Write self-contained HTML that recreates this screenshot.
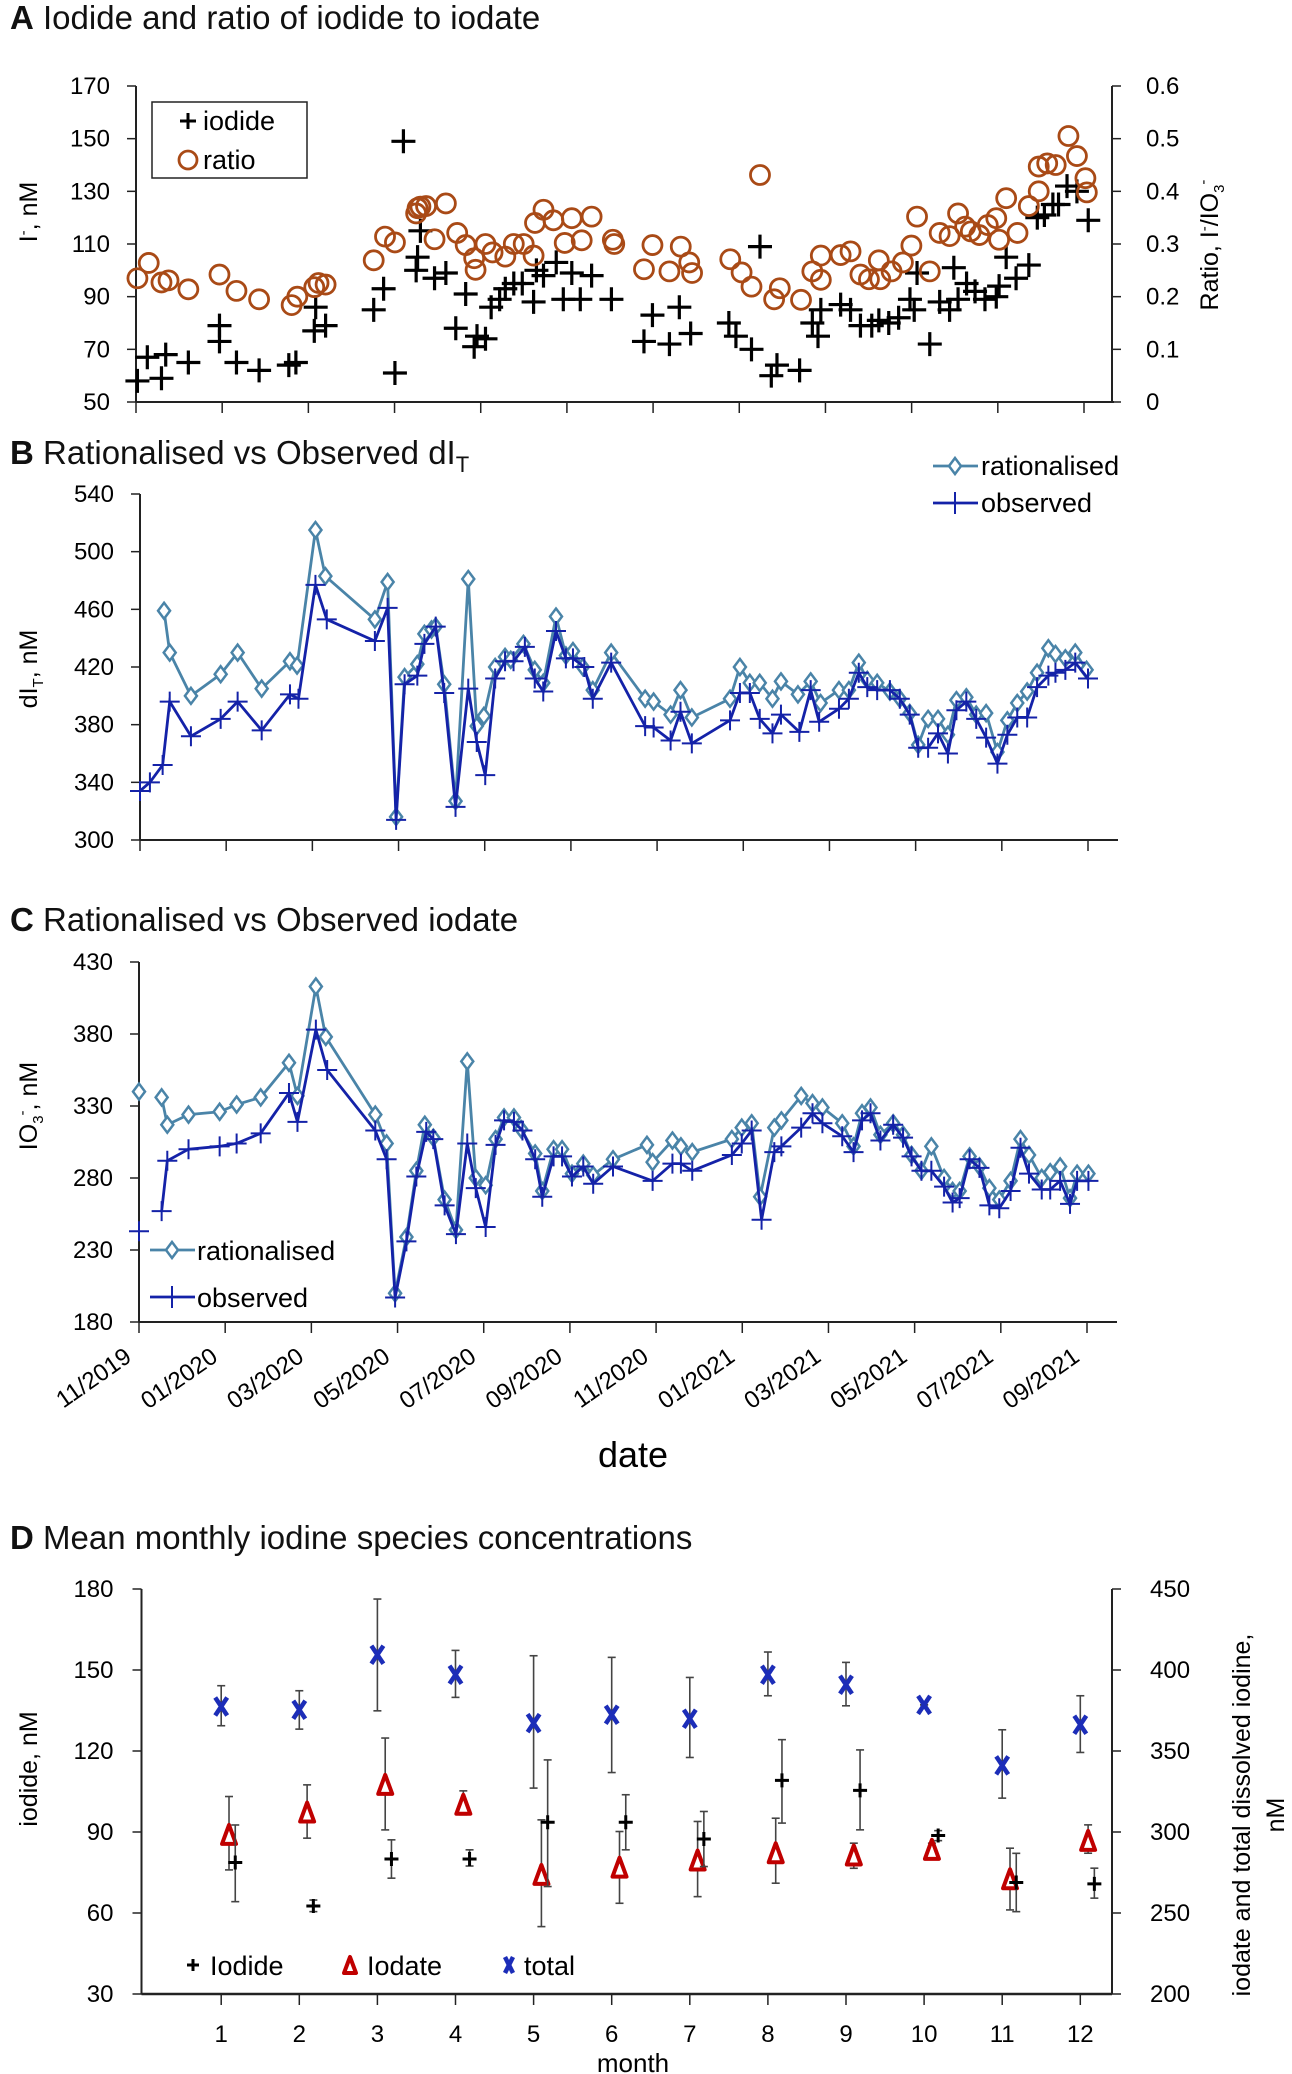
<!DOCTYPE html>
<html><head><meta charset="utf-8">
<style>
html,body{margin:0;padding:0;background:#fff;}
svg{display:block;font-family:"Liberation Sans",sans-serif;}
</style></head>
<body>
<svg id="fig" width="1292" height="2074" viewBox="0 0 1292 2074" xmlns="http://www.w3.org/2000/svg">
<g id="static">
<text x="10" y="29" font-size="33" fill="#111"><tspan font-weight="bold">A</tspan>  Iodide and ratio of iodide to iodate</text>
<text x="10" y="464" font-size="33" fill="#111"><tspan font-weight="bold">B</tspan>  Rationalised vs Observed dI<tspan font-size="22" dy="8">T</tspan></text>
<text x="10" y="931" font-size="33" fill="#111"><tspan font-weight="bold">C</tspan>  Rationalised vs Observed iodate</text>
<text x="10" y="1549" font-size="33" fill="#111"><tspan font-weight="bold">D</tspan>  Mean monthly iodine species concentrations</text>
<text transform="translate(37,212) rotate(-90)" text-anchor="middle" font-size="25">I<tspan font-size="15" dy="-9">-</tspan><tspan dy="9">, nM</tspan></text>
<text transform="translate(1218,245) rotate(-90)" text-anchor="middle" font-size="25">Ratio, I<tspan font-size="15" dy="-9">-</tspan><tspan dy="9">/IO</tspan><tspan font-size="15" dy="6">3</tspan><tspan font-size="15" dy="-16">-</tspan></text>
<text transform="translate(37,669) rotate(-90)" text-anchor="middle" font-size="25">dI<tspan font-size="15" dy="6">T</tspan><tspan dy="-6">, nM</tspan></text>
<text transform="translate(37,1106) rotate(-90)" text-anchor="middle" font-size="25">IO<tspan font-size="15" dy="6">3</tspan><tspan font-size="15" dy="-16">-</tspan><tspan dy="10">, nM</tspan></text>
<text x="633" y="1467" text-anchor="middle" font-size="36">date</text>
<text transform="translate(37,1769) rotate(-90)" text-anchor="middle" font-size="25">iodide, nM</text>
<text transform="translate(1250,1815) rotate(-90)" text-anchor="middle" font-size="25">iodate and total dissolved iodine,</text>
<text transform="translate(1284,1815) rotate(-90)" text-anchor="middle" font-size="25">nM</text>
<text x="633" y="2072" text-anchor="middle" font-size="26">month</text>
</g>
<g id="plots"></g>
</svg>
<script>
// ---------- Panel A data ----------
const aIodideDay=[1,8,18,21,37,59,59,71,87,108,113,127,126,134,168,175,183,189,199,201,198,211,219,226,233,239,241,247,251,257,261,267,273,281,283,288,297,302,308,314,322,336,359,365,377,384,392,419,424,435,441,449,453,469,478,482,484,498,505,512,520,525,532,539,547,550,552,561,568,575,578,581,587,593,600,608,610,615,622,631,637,642,648,652,658,665,673];
const aIodideVal=[58,67,59,68,65,79,73,65,62,64,65,86,77,79,85,93,61,149,105,115,100,97,99,78,91,71,75,74,86,89,93,95,95,88,100,98,103,89,99,89,98,89,73,83,72,86,76,80,75,70,109,60,64,62,80,75,85,87,85,79,79,81,80,82,89,85,99,72,88,85,101,89,95,92,89,90,94,105,97,102,120,121,125,125,132,130,119];
const aRatioDay=[1,9,18,23,37,59,71,87,110,114,126,129,134,168,176,183,198,199,201,205,211,219,227,233,239,240,247,252,261,267,274,281,282,288,295,303,308,315,322,337,338,359,365,377,385,391,393,420,428,435,441,451,455,470,478,484,484,498,505,512,518,525,526,534,542,548,552,561,568,575,581,586,590,596,602,608,610,615,623,631,638,638,644,650,659,665,671,672];
const aRatioVal=[.235,.264,.227,.231,.214,.242,.211,.195,.184,.200,.218,.226,.223,.269,.314,.303,.358,.368,.371,.372,.309,.377,.321,.298,.273,.251,.300,.284,.276,.300,.300,.278,.340,.365,.345,.302,.349,.307,.352,.308,.300,.252,.298,.248,.295,.265,.245,.271,.246,.219,.431,.195,.216,.194,.248,.232,.278,.279,.286,.242,.233,.269,.233,.248,.265,.297,.352,.248,.321,.315,.358,.333,.324,.317,.336,.349,.308,.387,.321,.372,.400,.447,.453,.450,.505,.467,.425,.398];
const aLeftTicks=[50,70,90,110,130,150,170];
const aRightTicks=["0","0.1","0.2","0.3","0.4","0.5","0.6"];
const dateTicks=["11/2019","01/2020","03/2020","05/2020","07/2020","09/2020","11/2020","01/2021","03/2021","05/2021","07/2021","09/2021"];
// ---------- Panel B data ----------
const bRatDay=[17,21,36,57,69,86,106,111,124,131,166,175,181,187,196,201,206,209,215,223,232,238,243,251,258,262,271,279,285,294,301,306,313,320,333,357,363,375,382,390,417,424,431,438,447,453,465,474,481,494,501,508,514,521,530,537,544,550,557,564,571,577,584,591,598,606,613,620,627,634,642,647,654,661,669];
const bRatVal=[459,430,400,415,430,405,424,421,515,483,453,479,316,413,422,443,446,448,408,327,481,379,386,420,427,425,436,418,409,455,428,431,420,404,430,398,396,387,404,385,398,420,409,409,398,410,401,410,395,404,404,423,411,409,403,398,388,366,384,384,373,397,399,387,388,361,383,395,403,416,433,429,426,430,418];
const bObsDay=[0,7,16,21,36,57,69,86,106,112,124,132,166,175,181,187,196,201,209,215,223,232,238,244,251,258,264,272,279,285,294,301,306,314,320,333,357,363,375,382,390,417,424,431,438,447,453,466,474,480,494,501,508,514,521,530,537,544,550,557,564,571,577,584,591,598,606,613,620,627,634,642,647,654,661,670];
const bObsVal=[334,340,352,396,372,384,396,376,401,398,477,453,438,461,314,408,414,436,448,402,323,405,368,345,412,424,424,434,412,403,445,426,426,420,398,423,379,378,369,389,367,383,402,402,384,374,387,375,404,382,391,398,416,406,404,404,398,387,364,364,374,360,390,396,384,371,353,373,385,385,406,414,416,418,423,412];
const bTicks=[300,340,380,420,460,500,540];
// ---------- Panel C data ----------
const cRatDay=[0,16,20,35,57,69,86,106,112,125,132,167,175,181,189,196,202,208,216,224,232,238,245,252,258,265,270,280,285,293,299,306,314,321,335,359,363,377,383,391,419,426,433,439,449,454,468,476,483,497,505,511,517,524,533,540,546,553,560,569,575,580,587,594,601,608,616,623,629,638,644,651,658,663,671];
const cRatVal=[340,336,317,324,326,331,336,360,337,413,378,324,304,200,239,285,317,308,265,244,361,280,275,307,322,322,314,297,271,300,300,283,290,282,293,303,291,306,302,298,307,315,318,267,315,320,337,332,329,318,302,325,329,310,318,310,296,285,302,280,271,271,295,288,273,265,278,307,296,280,284,288,266,283,283];
const cObsDay=[0,16,20,35,57,69,86,106,112,125,133,167,175,181,189,196,203,208,216,224,232,238,245,252,258,265,271,280,285,293,299,306,314,321,335,363,377,383,391,419,426,433,440,449,454,468,476,483,497,505,511,517,524,533,540,546,553,560,569,575,580,587,594,601,608,616,623,629,638,644,651,658,663,671];
const cObsVal=[243,257,292,300,302,304,311,339,319,383,355,313,293,197,236,281,312,307,261,241,304,273,246,303,320,319,313,293,267,295,295,281,288,276,288,278,290,290,285,296,304,313,251,298,302,315,325,318,309,298,320,325,306,317,308,295,285,285,274,263,266,293,287,261,259,271,301,283,272,272,278,262,278,278];
const cTicks=[180,230,280,330,380,430];
// ---------- Panel D data ----------
const months=[1,2,3,4,5,6,7,8,9,10,11,12];
const dIodide=[78.7,62.6,80,80,93.6,93.6,87.4,109.1,105.4,88.7,71.3,70.8];
const dIodideHi=[92.6,64.8,87.1,83.4,116.7,103.8,97.6,124.2,120.4,90.5,82.1,76.6];
const dIodideLo=[64.2,60.5,72.9,77.4,69.8,83.4,77.2,93.3,90.8,86.8,60.5,65.5];
const dIodate=[298.2,312,329.1,316.8,273.5,278,282.4,286.9,285.5,289,270.8,294.5];
const dIodateHi=[321.9,329.1,358,325.4,307.5,300.3,306.5,308.5,293.1,293.1,290,304.4];
const dIodateLo=[276.6,296.2,301.3,310.6,241.6,256,260.1,268.4,277.6,284.8,251.9,286.9];
const dTotal=[377.5,375.5,409.4,397.1,367.2,372.4,369.9,397.1,390.9,378.5,341.1,366.2];
const dTotalHi=[390.3,387.2,443.8,412.1,408.8,407.8,395.4,411.1,404.7,378.5,363.1,384.1];
const dTotalLo=[365.6,363.5,374.8,383.1,327.1,336.7,346,384.1,377.9,378.5,320.9,349.1];
const dLeftTicks=[30,60,90,120,150,180];
const dRightTicks=[200,250,300,350,400,450];

const NS="http://www.w3.org/2000/svg";
const root=document.getElementById('plots');
function mk(tag,attrs,parent,text){const e=document.createElementNS(NS,tag);for(const k in attrs)e.setAttribute(k,attrs[k]);if(text!==undefined)e.textContent=text;(parent||root).appendChild(e);return e;}
function grp(name){const g=mk('g',{});


return g;}
function plus(g,x,y,s,c,w){mk('path',{d:`M${x-s} ${y}H${x+s}M${x} ${y-s}V${y+s}`,stroke:c,'stroke-width':w,fill:'none'},g);}
function diamond(g,x,y,c){mk('path',{d:`M${x} ${y-8}L${x+6} ${y}L${x} ${y+8}L${x-6} ${y}Z`,stroke:c,'stroke-width':2.5,fill:'#fff'},g);}
function line(g,x1,y1,x2,y2,c,w){mk('line',{x1,y1,x2,y2,stroke:c,'stroke-width':w||1.5},g);}

function timeAxis(g,x0,y0,withLabels){
  const w=948;line(g,x0,y0,x0+978,y0,'#222',2);
  dateTicks.forEach((t,i)=>{const x=x0+i*w/11;line(g,x,y0,x,y0+11,'#222',1.5);
    if(withLabels){const tx=mk('text',{transform:`translate(${x-6},${y0+38}) rotate(-35)`,'text-anchor':'end','font-size':24},g,t);
    
    }});
}

// ----- Panel A -----
(function(){
  const g=grp('panel-a-chart');
  const X0=136,Y0=402,Y1=86;
  const x=d=>X0+d*948/670, y=v=>Y0-(v-50)/120*(Y0-Y1), yr=r=>Y0-r/0.6*(Y0-Y1);
  line(g,X0,Y1,X0,Y0,'#222',2);line(g,1112,Y1,1112,Y0,'#222',2);
  timeAxis(g,X0,Y0,false);
  aLeftTicks.forEach(t=>{line(g,X0-9,y(t),X0,y(t),'#222',1.5);mk('text',{x:X0-26,y:y(t)+8,'text-anchor':'end','font-size':24},g,t);});
  aRightTicks.forEach(t=>{const yy=yr(parseFloat(t));line(g,1112,yy,1121,yy,'#222',1.5);mk('text',{x:1146,y:yy+8,'font-size':24},g,t);});
  const gi=grp('iodide-series');g.appendChild(gi);
  aIodideDay.forEach((d,i)=>plus(gi,x(d),y(aIodideVal[i]),12,'#000',3.2));
  const gr=grp('ratio-series');g.appendChild(gr);
  aRatioDay.forEach((d,i)=>mk('circle',{cx:x(aRatioDay[i]),cy:yr(aRatioVal[i]),r:9.5,fill:'none',stroke:'#a94a16','stroke-width':2.8},gr));
  const lg=grp('panel-a-legend');g.appendChild(lg);
  mk('rect',{x:152,y:102,width:155,height:76,fill:'#fff',stroke:'#222','stroke-width':1.5},lg);
  plus(lg,188,121,8,'#000',3);mk('text',{x:203,y:130,'font-size':27},lg,'iodide');
  mk('circle',{cx:188,cy:160,r:9,fill:'none',stroke:'#a94a16','stroke-width':2.8},lg);mk('text',{x:203,y:169,'font-size':27},lg,'ratio');
})();

// ----- Panel B -----
(function(){
  const g=grp('panel-b-chart');
  const X0=140,Y0=840,Y1=494;
  const x=d=>X0+d*948/670, y=v=>Y0-(v-300)/240*(Y0-Y1);
  line(g,X0,Y1,X0,Y0,'#222',2);timeAxis(g,X0,Y0,false);
  bTicks.forEach(t=>{line(g,X0-9,y(t),X0,y(t),'#222',1.5);mk('text',{x:X0-26,y:y(t)+8,'text-anchor':'end','font-size':24},g,t);});
  const gr=grp('rationalised-line');g.appendChild(gr);
  mk('polyline',{points:bRatDay.map((d,i)=>x(d)+','+y(bRatVal[i])).join(' '),fill:'none',stroke:'#4a84a8','stroke-width':2.8},gr);
  bRatDay.forEach((d,i)=>diamond(gr,x(d),y(bRatVal[i]),'#4a84a8'));
  const go=grp('observed-line');g.appendChild(go);
  mk('polyline',{points:bObsDay.map((d,i)=>x(d)+','+y(bObsVal[i])).join(' '),fill:'none',stroke:'#1422a8','stroke-width':2.8},go);
  bObsDay.forEach((d,i)=>plus(go,x(d),y(bObsVal[i]),10,'#1422a8',2));
  const lg=grp('panel-b-legend');g.appendChild(lg);
  line(lg,933,466,978,466,'#4a84a8',2.8);diamond(lg,955,466,'#4a84a8');mk('text',{x:981,y:475,'font-size':27},lg,'rationalised');
  line(lg,933,503,978,503,'#1422a8',2.8);plus(lg,955,503,11,'#1422a8',2);mk('text',{x:981,y:512,'font-size':27},lg,'observed');
})();

// ----- Panel C -----
(function(){
  const g=grp('panel-c-chart');
  const X0=139,Y0=1322,Y1=962;
  const x=d=>X0+d*948/670, y=v=>Y0-(v-180)/250*(Y0-Y1);
  line(g,X0,Y1,X0,Y0,'#222',2);timeAxis(g,X0,Y0,true);
  cTicks.forEach(t=>{line(g,X0-9,y(t),X0,y(t),'#222',1.5);mk('text',{x:X0-26,y:y(t)+8,'text-anchor':'end','font-size':24},g,t);});
  const gr=grp('rationalised-iodate-line');g.appendChild(gr);
  mk('polyline',{points:cRatDay.slice(1).map((d,i)=>x(d)+','+y(cRatVal[i+1])).join(' '),fill:'none',stroke:'#4a84a8','stroke-width':2.8},gr);
  cRatDay.forEach((d,i)=>diamond(gr,x(d),y(cRatVal[i]),'#4a84a8'));
  const go=grp('observed-iodate-line');g.appendChild(go);
  mk('polyline',{points:cObsDay.slice(1).map((d,i)=>x(d)+','+y(cObsVal[i+1])).join(' '),fill:'none',stroke:'#1422a8','stroke-width':2.8},go);
  cObsDay.forEach((d,i)=>plus(go,x(d),y(cObsVal[i]),10,'#1422a8',2));
  const lg=grp('panel-c-legend');g.appendChild(lg);
  line(lg,150,1250,195,1250,'#4a84a8',2.8);diamond(lg,172,1250,'#4a84a8');mk('text',{x:197,y:1260,'font-size':27},lg,'rationalised');
  line(lg,150,1297,195,1297,'#1422a8',2.8);plus(lg,172,1297,11,'#1422a8',2);mk('text',{x:197,y:1307,'font-size':27},lg,'observed');
})();

// ----- Panel D -----
(function(){
  const g=grp('panel-d-chart');
  const X0=141.5,X1=1112,Y0=1994,Y1=1589;
  const x=m=>143.1+78.1*m, y=v=>Y0-(v-30)/150*(Y0-Y1), yr=v=>Y0-(v-200)/250*(Y0-Y1);
  line(g,X0,Y1,X0,Y0,'#222',2);line(g,X1,Y1,X1,Y0,'#222',2);line(g,X0,Y0,X1,Y0,'#222',2.5);
  dLeftTicks.forEach(t=>{line(g,X0-9,y(t),X0,y(t),'#222',1.5);mk('text',{x:X0-28,y:y(t)+8,'text-anchor':'end','font-size':24},g,t);});
  dRightTicks.forEach(t=>{line(g,X1,yr(t),X1+9,yr(t),'#222',1.5);mk('text',{x:1150,y:yr(t)+8,'font-size':24},g,t);});
  months.forEach(m=>{line(g,x(m),Y0,x(m),Y0+11,'#222',1.5);mk('text',{x:x(m),y:2042,'text-anchor':'middle','font-size':24},g,m);});
  function ebar(gg,xx,yh,yl){line(gg,xx,yh,xx,yl,'#444',1.6);line(gg,xx-4,yh,xx+4,yh,'#444',1.6);line(gg,xx-4,yl,xx+4,yl,'#444',1.6);}
  const gt=grp('total-series');g.appendChild(gt);
  months.forEach((m,i)=>{const xx=x(m);ebar(gt,xx,yr(dTotalHi[i]),yr(dTotalLo[i]));const yy=yr(dTotal[i]);
    mk('path',{d:`M${xx-6} ${yy-9}L${xx+6} ${yy+9}M${xx+6} ${yy-9}L${xx-6} ${yy+9}`,stroke:'#1c2db8','stroke-width':4.5},gt);});
  const ga=grp('iodate-series');g.appendChild(ga);
  months.forEach((m,i)=>{const xx=x(m+0.1);ebar(ga,xx,yr(dIodateHi[i]),yr(dIodateLo[i]));const yy=yr(dIodate[i]);
    mk('path',{d:`M${xx} ${yy-10}L${xx+7} ${yy+9}L${xx-7} ${yy+9}Z`,stroke:'#c00000','stroke-width':4,fill:'#fff','stroke-linejoin':'round'},ga);});
  const gi=grp('iodide-monthly-series');g.appendChild(gi);
  months.forEach((m,i)=>{const xx=x(m+0.18);ebar(gi,xx,y(dIodideHi[i]),y(dIodideLo[i]));plus(gi,xx,y(dIodide[i]),7,'#000',3);});
  const lg=grp('panel-d-legend');g.appendChild(lg);
  plus(lg,193,1965,6,'#000',3);mk('text',{x:210,y:1975,'font-size':27},lg,'Iodide');
  mk('path',{d:'M350 1957L356 1973L344 1973Z',stroke:'#c00000','stroke-width':4,fill:'#fff','stroke-linejoin':'round'},lg);mk('text',{x:367,y:1975,'font-size':27},lg,'Iodate');
  mk('path',{d:'M505 1957L513 1973M513 1957L505 1973',stroke:'#1c2db8','stroke-width':4.5},lg);mk('text',{x:524,y:1975,'font-size':27},lg,'total');
})();
</script>
</body></html>
